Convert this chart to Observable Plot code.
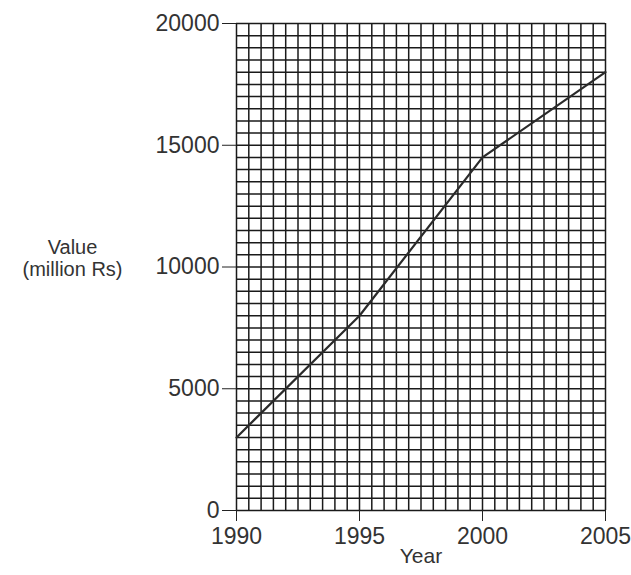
<!DOCTYPE html>
<html><head><meta charset="utf-8">
<script src="https://cdn.jsdelivr.net/npm/d3@7"></script>
<script src="https://cdn.jsdelivr.net/npm/@observablehq/plot@0.6"></script>
<style>body{margin:0;background:#fff}</style>
</head><body><div id="chart"></div>
<script>
const years = [1990, 1995, 2000, 2005];
const values = [3000, 8000, 14500, 18000];
const xTicks = [1990, 1995, 2000, 2005];
const yTicks = [0, 5000, 10000, 15000, 20000];
const xLabel = "Year";
const yLabel = "Value\n(million Rs)";

const data = years.map((year, i) => ({year, value: values[i]}));
const xGrid = d3.range(1990, 2005.001, 0.5);
const yGrid = d3.range(0, 20000.001, 500);

const font = "'Liberation Sans', Arial, sans-serif";
const ink = "#333";

const chart = Plot.plot({
  width: 631,
  height: 575,
  marginLeft: 236,
  marginRight: 26,
  marginTop: 23,
  marginBottom: 65,
  style: {fontFamily: font, fontSize: "23px", color: ink, background: "#fff"},
  x: {domain: [1990, 2005]},
  y: {domain: [0, 20000]},
  marks: [
    Plot.ruleX(xGrid, {stroke: "#1a1a1a", strokeWidth: 1.5}),
    Plot.ruleY(yGrid, {stroke: "#1a1a1a", strokeWidth: 1.5}),
    Plot.axisY({ticks: yTicks, tickSize: 14, tickPadding: 3, tickFormat: d => String(d), label: null, stroke: "#222", fontSize: 23}),
    Plot.axisX({ticks: xTicks, tickSize: 11, tickPadding: 6, tickFormat: d => String(d), label: null, stroke: "#222", fontSize: 23}),
    Plot.line(data, {x: "year", y: "value", stroke: "#2a2a2a", strokeWidth: 2.2}),
    Plot.text([yLabel], {frameAnchor: "left", dx: -164, dy: -9, textAnchor: "middle", lineHeight: 1.08, fontSize: 20, fill: ink}),
    Plot.text([xLabel], {frameAnchor: "bottom", dy: 52, textAnchor: "middle", fontSize: 21, fill: ink})
  ]
});
document.getElementById("chart").append(chart);
</script>
</body></html>
